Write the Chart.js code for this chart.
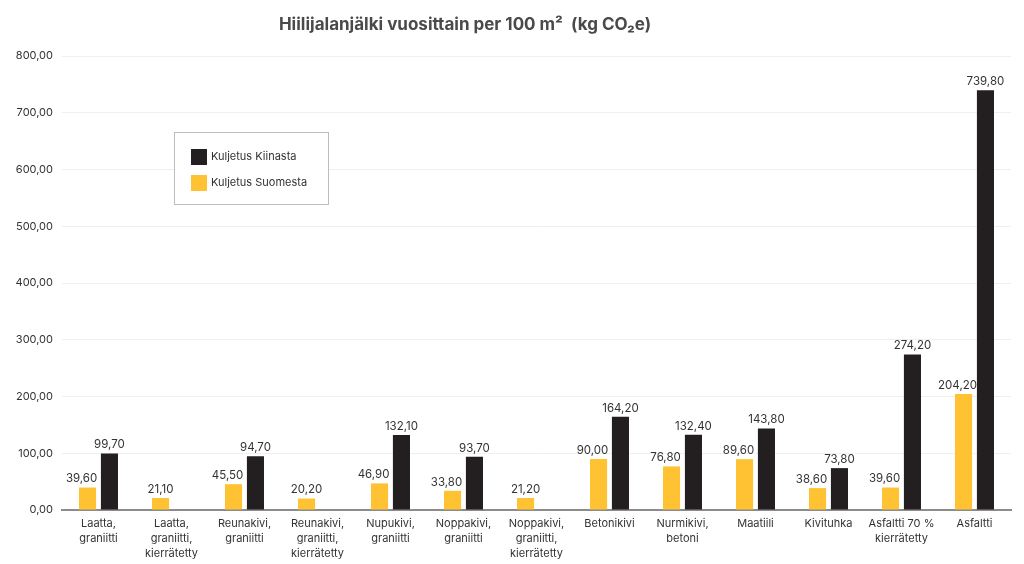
<!DOCTYPE html>
<html>
<head>
<meta charset="utf-8">
<script src="https://cdn.jsdelivr.net/npm/chart.js@4"></script>
<style>
  html, body { margin: 0; padding: 0; background: #fff; }
  #wrap { width: 1024px; height: 564px; }
</style>
</head>
<body>
<div id="wrap"><canvas id="chart" width="1024" height="564"></canvas></div>
<script>
// Hiilijalanjälki, kaksi sarjaa
const categories = [
    ['Laatta,', 'graniitti'],
    ['Laatta,', 'graniitti,', 'kierrätetty'],
    ['Reunakivi,', 'graniitti'],
    ['Reunakivi,', 'graniitti,', 'kierrätetty'],
    ['Nupukivi,', 'graniitti'],
    ['Noppakivi,', 'graniitti'],
    ['Noppakivi,', 'graniitti,', 'kierrätetty'],
    'Betonikivi',
    ['Nurmikivi,', 'betoni'],
    'Maatiili',
    'Kivituhka',
    ['Asfaltti 70 %', 'kierrätetty'],
    'Asfaltti'
];
const suomesta = [39.6, 21.1, 45.5, 20.2, 46.9, 33.8, 21.2, 90.0, 76.8, 89.6, 38.6, 39.6, 204.2];
const kiinasta = [99.7, null, 94.7, null, 132.1, 93.7, null, 164.2, 132.4, 143.8, 73.8, 274.2, 739.8];
const yTicks = [0, 100, 200, 300, 400, 500, 600, 700, 800];

const YELLOW = '#FFC233';
const BLACK = '#231F20';
const FONT = 'Inter, "Liberation Sans", sans-serif';

const fmt = v => v.toFixed(2).replace('.', ',');

// arvot pylväiden päälle
const valueLabels = {
    id: 'valueLabels',
    afterDatasetsDraw(chart) {
        const c = chart.ctx;
        c.save();
        c.font = '11.5px ' + FONT;
        c.fillStyle = '#333';
        c.textAlign = 'center';
        c.textBaseline = 'bottom';
        chart.data.datasets.forEach((ds, i) => {
            chart.getDatasetMeta(i).data.forEach((bar, j) => {
                const v = ds.data[j];
                if (v == null) return;
                // keltainen nimiö hieman vasemmalle, jos vieressä on musta pylväs
                const dx = (i === 0 && kiinasta[j] != null) ? -6 : 0;
                c.fillText(fmt(v), bar.x + dx, bar.y - 3);
            });
        });
        c.restore();
    }
};

// otsikko ja selite kaavion sisällä
const titleAndLegend = {
    id: 'titleAndLegend',
    afterDraw(chart) {
        const c = chart.ctx;
        c.save();
        c.font = 'bold 17px ' + FONT;
        c.fillStyle = '#4a4a4a';
        c.textAlign = 'center';
        c.textBaseline = 'middle';
        c.fillText('Hiilijalanjälki vuosittain per 100 m²  (kg CO₂e)', 465, 25);

        c.strokeStyle = '#bdbdbd';
        c.lineWidth = 1;
        c.fillStyle = '#fff';
        c.fillRect(174.5, 132.5, 154, 72);
        c.strokeRect(174.5, 132.5, 154, 72);
        const items = [chart.data.datasets[1], chart.data.datasets[0]];
        c.font = '11px ' + FONT;
        c.textAlign = 'left';
        items.forEach((ds, k) => {
            const y = 157 + k * 26;
            c.fillStyle = ds.backgroundColor;
            c.fillRect(191, y - 8, 16, 16);
            c.fillStyle = '#333';
            c.fillText(ds.label, 211, y);
        });
        c.restore();
    }
};

new Chart(document.getElementById('chart'), {
    type: 'bar',
    data: {
        labels: categories,
        datasets: [
            { label: 'Kuljetus Suomesta', data: suomesta, backgroundColor: YELLOW },
            { label: 'Kuljetus Kiinasta', data: kiinasta, backgroundColor: BLACK }
        ]
    },
    options: {
        responsive: false,
        animation: false,
        layout: { padding: { top: 56, right: 13, bottom: 0, left: 0 } },
        datasets: { bar: { categoryPercentage: 0.6, barPercentage: 0.78 } },
        scales: {
            x: {
                grid: { display: false },
                border: { color: '#8c8c8c', width: 2 },
                afterFit: scale => { scale.height = 54; },
                ticks: {
                    color: '#333',
                    font: { family: FONT, size: 11, lineHeight: 1.36 },
                    maxRotation: 0,
                    autoSkip: false,
                    padding: -2
                }
            },
            y: {
                min: 0,
                max: 800,
                afterBuildTicks: scale => { scale.ticks = yTicks.map(v => ({ value: v })); },
                afterFit: scale => { scale.width = 62; },
                grid: { color: '#efefef', drawTicks: false },
                border: { display: false },
                ticks: {
                    color: '#333',
                    font: { family: FONT, size: 11 },
                    padding: 9,
                    callback: v => fmt(v)
                }
            }
        },
        plugins: {
            legend: { display: false },
            title: { display: false },
            tooltip: { enabled: false }
        }
    },
    plugins: [valueLabels, titleAndLegend]
});
</script>
</body>
</html>
